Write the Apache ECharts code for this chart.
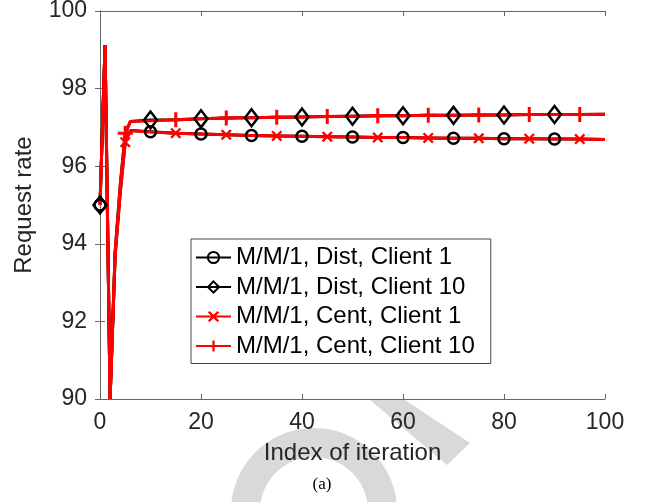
<!DOCTYPE html>
<html>
<head>
<meta charset="utf-8">
<script src="https://cdn.jsdelivr.net/npm/echarts@6/dist/echarts.min.js"></script>
<style>
  html, body { margin: 0; padding: 0; background: #fff; }
  #container { width: 647px; height: 502px; }
</style>
</head>
<body>
<div id="container"></div>
<script>
var iters = [0, 1, 2, 3, 4, 5, 6, 10, 15, 20, 25, 30, 35, 40, 45, 50, 55, 60, 65, 70, 75, 80, 85, 90, 95, 100];

var dist1  = [95, 99.12, 90, 93.7, 95.3, 96.62, 96.92, 96.89, 96.85, 96.83, 96.81, 96.79, 96.78, 96.77, 96.76, 96.75, 96.74, 96.74, 96.73, 96.72, 96.72, 96.71, 96.71, 96.70, 96.70, 96.69];
var dist10 = [95, 99.12, 90, 93.8, 95.5, 96.85, 97.15, 97.19, 97.20, 97.22, 97.24, 97.25, 97.26, 97.27, 97.28, 97.29, 97.30, 97.30, 97.31, 97.31, 97.32, 97.32, 97.33, 97.33, 97.33, 97.34];
var cent1  = [95, 99.12, 90, 93.7, 95.3, 96.62, 96.92, 96.88, 96.85, 96.83, 96.81, 96.79, 96.78, 96.77, 96.76, 96.75, 96.74, 96.74, 96.73, 96.72, 96.72, 96.71, 96.71, 96.70, 96.70, 96.69];
var cent10 = [95, 99.12, 90, 93.8, 95.5, 96.85, 97.15, 97.17, 97.20, 97.22, 97.24, 97.25, 97.26, 97.27, 97.28, 97.29, 97.30, 97.30, 97.31, 97.31, 97.32, 97.32, 97.33, 97.33, 97.33, 97.34];

var distMarks = [0, 10, 20, 30, 40, 50, 60, 70, 80, 90];
var centMarks = [5, 15, 25, 35, 45, 55, 65, 75, 85, 95];

var seriesNames = ['M/M/1, Dist, Client 1', 'M/M/1, Dist, Client 10', 'M/M/1, Cent, Client 1', 'M/M/1, Cent, Client 10'];

var PLUS = 'path://M4,0H6V10H4Z M0,4H10V6H0Z';
var CROSS = 'path://M1.5,0L5,3.5L8.5,0L10,1.5L6.5,5L10,8.5L8.5,10L5,6.5L1.5,10L0,8.5L3.5,5L0,1.5Z';

function pairs(ys) {
    return iters.map(function (x, i) { return [x, ys[i]]; });
}
function sizeAt(marks, size) {
    return function (v) { return marks.indexOf(v[0]) >= 0 ? size : 0; };
}

var FONT = 'Liberation Sans';
var dom = document.getElementById('container');
var myChart = echarts.init(dom, null, { renderer: 'canvas' });

var axisLine = { show: true, lineStyle: { color: '#666', width: 1 } };
var tick = { show: true, inside: true, length: 5, lineStyle: { color: '#666' } };

var option = {
    backgroundColor: '#fff',
    animation: false,
    grid: { left: 100, right: 42, top: 11, bottom: 103, outerBoundsMode: 'none' },
    legend: {
        orient: 'vertical',
        left: 191,
        top: 239,
        data: seriesNames,
        backgroundColor: '#fff',
        borderColor: '#444',
        borderWidth: 1,
        borderRadius: 0,
        padding: [6, 16, 5, 4],
        itemWidth: 35,
        itemHeight: 14,
        itemGap: 4.5,
        textStyle: { fontFamily: FONT, fontSize: 24, color: '#000', lineHeight: 25 }
    },
    xAxis: [{
        type: 'value', min: 0, max: 100, interval: 20,
        name: 'Index of iteration', nameLocation: 'middle', nameGap: 42,
        nameTextStyle: { fontFamily: FONT, fontSize: 24, color: '#262626' },
        axisLine: axisLine, axisTick: tick, splitLine: { show: false },
        axisLabel: { fontFamily: FONT, fontSize: 23, color: '#262626', margin: 12 }
    }, {
        type: 'value', min: 0, max: 100, interval: 20, position: 'top',
        axisLine: axisLine, axisTick: tick, splitLine: { show: false },
        axisLabel: { show: false }
    }],
    yAxis: [{
        type: 'value', min: 90, max: 100, interval: 2,
        name: 'Request rate', nameLocation: 'middle', nameGap: 64,
        nameTextStyle: { fontFamily: FONT, fontSize: 24, color: '#262626' },
        axisLine: axisLine, axisTick: tick, splitLine: { show: false },
        axisLabel: { fontFamily: FONT, fontSize: 23, color: '#262626', margin: 13 }
    }, {
        type: 'value', min: 90, max: 100, interval: 2, position: 'right',
        axisLine: axisLine, axisTick: tick, splitLine: { show: false },
        axisLabel: { show: false }
    }],
    graphic: [
        { type: 'ring', z: -1, shape: { cx: 314, cy: 511, r: 83, r0: 54 }, style: { fill: '#d9d9d9' } },
        { type: 'polygon', z: -1, shape: { points: [[370, 400], [405, 400], [470, 443], [447, 465]] }, style: { fill: '#d9d9d9' } },
        { type: 'text', x: 322, y: 485, style: { text: '(a)', font: '17px "Liberation Serif"', fill: '#000', align: 'center', verticalAlign: 'middle' } }
    ],
    series: [{
        name: seriesNames[0], type: 'line', data: pairs(dist1),
        showAllSymbol: true, symbol: 'circle', symbolSize: sizeAt(distMarks, 11),
        lineStyle: { color: '#000', width: 3 },
        itemStyle: { color: 'rgba(0,0,0,0)', borderColor: '#000', borderWidth: 2.5 }
    }, {
        name: seriesNames[1], type: 'line', data: pairs(dist10),
        showAllSymbol: true, symbol: 'diamond', symbolSize: sizeAt(distMarks, [13, 17]),
        lineStyle: { color: '#000', width: 3 },
        itemStyle: { color: 'rgba(0,0,0,0)', borderColor: '#000', borderWidth: 2.5 }
    }, {
        name: seriesNames[2], type: 'line', data: pairs(cent1),
        showAllSymbol: true, symbol: CROSS, symbolSize: sizeAt(centMarks, 11),
        lineStyle: { color: '#ff0000', width: 3 },
        itemStyle: { color: '#ff0000', borderWidth: 0 }
    }, {
        name: seriesNames[3], type: 'line', data: pairs(cent10),
        showAllSymbol: true, symbol: PLUS, symbolSize: sizeAt(centMarks, 15),
        lineStyle: { color: '#ff0000', width: 3 },
        itemStyle: { color: '#ff0000', borderWidth: 0 }
    }]
};

myChart.setOption(option);
window.addEventListener('resize', myChart.resize);
</script>
</body>
</html>
